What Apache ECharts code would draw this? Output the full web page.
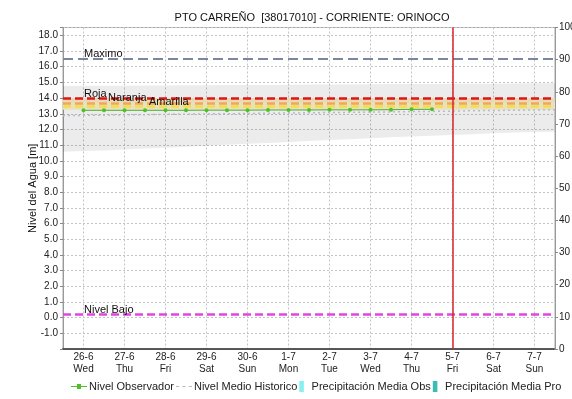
<!DOCTYPE html>
<html>
<head>
<meta charset="utf-8">
<script src="https://cdn.jsdelivr.net/npm/echarts@6/dist/echarts.min.js"></script>
<style>
  html, body { margin: 0; padding: 0; background: #fff; }
  #grafico { width: 572px; height: 399px; }
</style>
</head>
<body>
<div id="grafico"></div>
<script>
// Días mostrados en el eje X (cada día se divide en dos intervalos de 12 h)
const dias = ['26-6', '27-6', '28-6', '29-6', '30-6', '1-7', '2-7', '3-7', '4-7', '5-7', '6-7', '7-7'];
const diasSemana = ['Wed', 'Thu', 'Fri', 'Sat', 'Sun', 'Mon', 'Tue', 'Wed', 'Thu', 'Fri', 'Sat', 'Sun'];
const intervaloInicial = '25-6 12h';

// Nivel observado cada 12 h desde el 26-6 00h [m]
const nivelObservado = [13.22, 13.22, 13.22, 13.22, 13.22, 13.22, 13.23, 13.23, 13.23,
                        13.24, 13.24, 13.24, 13.25, 13.25, 13.25, 13.26, 13.28, 13.28];

// Nivel medio histórico y envolvente histórica (mín / máx) cada 12 h desde el 25-6 12h [m]
const nivelMedio = [12.88, 12.90, 12.91, 12.93, 12.94, 12.96, 12.97, 12.99, 13.00, 13.02, 13.03, 13.05, 13.06,
                    13.08, 13.09, 13.11, 13.12, 13.14, 13.15, 13.17, 13.19, 13.21, 13.22, 13.24, 13.26];
const historicoMin = [10.58, 10.62, 10.66, 10.72, 10.78, 10.84, 10.90, 10.96, 11.02, 11.08, 11.14, 11.20, 11.26,
                      11.32, 11.38, 11.44, 11.50, 11.55, 11.60, 11.64, 11.70, 11.76, 11.80, 11.84, 11.86];
const historicoMax = [14.77, 14.78, 14.78, 14.79, 14.80, 14.80, 14.81, 14.82, 14.83, 14.83, 14.84, 14.85, 14.86,
                      14.86, 14.87, 14.88, 14.89, 14.89, 14.90, 14.91, 14.92, 14.92, 14.93, 14.94, 14.95];

// Umbrales del nivel del agua [m]
const umbralNombres = ['Maximo', 'Roja', 'Naranja', 'Amarilla', 'Nivel Bajo'];
const umbralValores = [16.5, 14.0, 13.7, 13.45, 0.2];
const umbralColores = ['#7b86a3', '#e01515', '#f2a65a', '#f3dc4e', '#e244e0'];
const umbralDesfase = [21, 21, 45, 86, 21];
const zonaAlerta = [13.25, 13.7, 14.0];

// Inicio del pronóstico
const inicioPronostico = '5-7 00h';

// Precipitación (sin datos en el periodo)
const precipitacionObs = [];
const precipitacionPro = [];

// Eje de intervalos de 12 h
const intervalos = [intervaloInicial];
dias.forEach(d => { intervalos.push(d + ' 00h'); intervalos.push(d + ' 12h'); });
const etiquetaDia = {};
dias.forEach((d, i) => { etiquetaDia[d + ' 00h'] = d + '\n' + diasSemana[i]; });

const fuente = 'Liberation Sans, Arial, sans-serif';
const par = (cats, vals) => vals.map((v, i) => [cats[i], v]);

const grafico = echarts.init(document.getElementById('grafico'), null, { renderer: 'canvas' });

const lineasUmbral = umbralNombres.map((n, i) => ({
  name: n,
  yAxis: umbralValores[i],
  lineStyle: { color: umbralColores[i], type: i === 0 ? [10, 5] : [8, 4], width: i === 0 ? 2 : 2.5 },
  label: {
    show: true, formatter: n, position: 'insideStartTop',
    distance: [umbralDesfase[i], -1],
    color: '#111', fontFamily: fuente, fontSize: 11
  }
}));

// Iconos de la leyenda
const iconoObservado = 'path://M0,4h6v-2h4v2h6v1h-6v2h-4v-2h-6z';
const iconoMedio = 'path://M0,4h3v1h-3zM6,4h3v1h-3zM12,4h3v1h-3z';
const iconoBarra = 'path://M0,0h5v12h-5z';

grafico.setOption({
  animation: false,
  backgroundColor: '#ffffff',
  title: {
    text: 'PTO CARREÑO  [38017010] - CORRIENTE: ORINOCO',
    left: 307, top: 7, textAlign: 'center',
    textStyle: { fontFamily: fuente, fontSize: 11, fontWeight: 'normal', color: '#111' }
  },
  legend: {
    bottom: 2, left: 66,
    itemWidth: 16, itemHeight: 11, itemGap: 2,
    textStyle: { fontFamily: fuente, fontSize: 11, color: '#222', padding: [0, 0, 0, -3] },
    data: [
      { name: 'Nivel Observador', icon: iconoObservado },
      { name: 'Nivel Medio Historico', icon: iconoMedio },
      { name: 'Precipitación Media Obs', icon: iconoBarra },
      { name: 'Precipitación Media Pro', icon: iconoBarra }
    ]
  },
  grid: {
    left: 63, right: 17, top: 27.5, bottom: 50,
    outerBoundsMode: 'none', containLabel: false,
    show: true, borderColor: '#a8a8a8', borderWidth: 1
  },
  xAxis: {
    type: 'category', data: intervalos, boundaryGap: false,
    axisLine: { onZero: false, lineStyle: { color: '#555', width: 2, type: [1, 1] } },
    axisTick: { show: false },
    axisLabel: {
      interval: (i, v) => !!etiquetaDia[v],
      formatter: v => etiquetaDia[v] || '',
      fontFamily: fuente, fontSize: 10, color: '#222', lineHeight: 12, margin: 2
    },
    splitLine: { show: true, interval: (i, v) => !!etiquetaDia[v], lineStyle: { color: '#c4c4c4', type: [2, 2] } }
  },
  yAxis: [
    {
      type: 'value', min: -2, max: 18.5, interval: 1,
      name: 'Nivel del Agua [m]', nameLocation: 'middle', nameGap: 25, nameRotate: 90,
      nameMoveOverlap: false,
      nameTextStyle: { fontFamily: fuente, fontSize: 11, color: '#111' },
      axisLine: { show: true, lineStyle: { color: '#999' } },
      axisTick: { show: true, length: 3, lineStyle: { color: '#888' } },
      axisLabel: {
        formatter: v => (Number.isInteger(v) && v > -2) ? v.toFixed(1) : '',
        fontFamily: fuente, fontSize: 10, color: '#222', margin: 5
      },
      splitLine: { show: true, lineStyle: { color: '#c4c4c4', type: [2, 2] } }
    },
    {
      type: 'value', min: 0, max: 100, interval: 10, position: 'right',
      axisLine: { show: true, lineStyle: { color: '#999' } },
      axisTick: { show: true, length: 3, lineStyle: { color: '#888' } },
      axisLabel: { fontFamily: fuente, fontSize: 10, color: '#222', margin: 4 },
      splitLine: { show: false }
    }
  ],
  series: [
    {
      name: 'historicoBase', type: 'line', stack: 'envolvente',
      data: par(intervalos, historicoMin), symbol: 'none',
      lineStyle: { width: 0 }, silent: true, z: 1
    },
    {
      name: 'historicoRango', type: 'line', stack: 'envolvente',
      data: par(intervalos, historicoMax.map((v, i) => v - historicoMin[i])), symbol: 'none',
      lineStyle: { width: 0 }, areaStyle: { color: 'rgba(0,0,0,0.075)', opacity: 1 }, silent: true, z: 1,
      markArea: {
        silent: true,
        data: [
          [{ yAxis: zonaAlerta[0], itemStyle: { color: '#fbf5cc' } }, { yAxis: zonaAlerta[1] }],
          [{ yAxis: zonaAlerta[1], itemStyle: { color: '#fbecc4' } }, { yAxis: zonaAlerta[2] }]
        ]
      }
    },
    {
      name: 'Nivel Medio Historico', type: 'line',
      data: par(intervalos, nivelMedio), symbol: 'none',
      itemStyle: { color: '#b4bac8' },
      lineStyle: { color: '#b4bac8', width: 1.5, type: [2, 3] }, z: 3
    },
    {
      name: 'Nivel Observador', type: 'line',
      data: par(intervalos.slice(1), nivelObservado),
      symbol: 'circle', symbolSize: 4,
      itemStyle: { color: '#4fbf2a' },
      lineStyle: { color: '#4fb02a', width: 1 }, z: 5,
      markLine: {
        silent: true, symbol: 'none', animation: false,
        data: lineasUmbral.concat([{
          xAxis: inicioPronostico,
          lineStyle: { color: '#d8262a', type: 'solid', width: 1.5 },
          label: { show: false }
        }])
      }
    },
    {
      name: 'Precipitación Media Obs', type: 'bar', yAxisIndex: 1,
      data: precipitacionObs, itemStyle: { color: '#86f0f2' }
    },
    {
      name: 'Precipitación Media Pro', type: 'bar', yAxisIndex: 1,
      data: precipitacionPro, itemStyle: { color: '#3cbcb4' }
    }
  ]
});
</script>
</body>
</html>
